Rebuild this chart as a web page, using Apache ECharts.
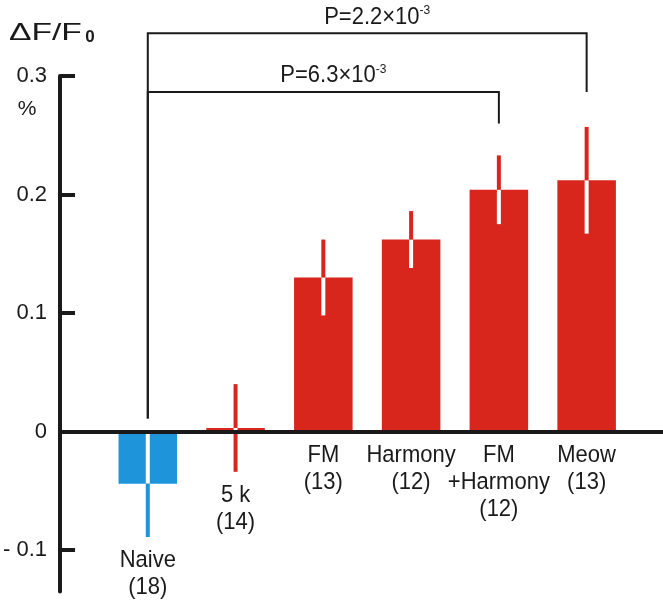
<!DOCTYPE html>
<html><head><meta charset="utf-8">
<script src="https://cdn.jsdelivr.net/npm/echarts@6/dist/echarts.min.js"></script>
<style>html,body{margin:0;padding:0;background:#fff}#c{width:663px;height:600px}</style>
</head><body><div id="c"></div>
<script>
const categories = ['Naive', '5 k', 'FM', 'Harmony', 'FM\n+Harmony', 'Meow'];
const sampleSizes = [18, 14, 13, 12, 12, 13];
const means = [-0.044, 0.003, 0.130, 0.162, 0.204, 0.212];
const sems = [0.045, 0.037, 0.032, 0.024, 0.029, 0.045];
const groupIsControl = [true, false, false, false, false, false];
const yTicks = [-0.1, 0, 0.1, 0.2, 0.3];
const yTickLabels = ['- 0.1', '0', '0.1', '0.2', '0.3'];
// significance brackets
const bracketFrom = [0, 0];
const bracketTo = [5, 4];
const bracketLevel = [0.336, 0.2865];
const bracketLegEnd = [0.2865, 0.260];
const bracketStartEnd = 0.011;
const pMantissa = ['P=2.2×10', 'P=6.3×10'];
const pExponent = ['-3', '-3'];

const FONT = '"Liberation Sans", Arial, Helvetica, sans-serif';
const RED = '#d8261d';
const BLUE = '#1e95db';
const INK = '#1a1a1a';

const chart = echarts.init(document.getElementById('c'));

function renderBar(params, api) {
  const i = api.value(0), m = api.value(1), e = api.value(2);
  const unit = api.size([1, 0])[0];
  const bw = unit * 0.667;
  const base = api.coord([i, 0]);
  const top = api.coord([i, m]);
  const color = groupIsControl[i] ? BLUE : RED;
  const lo = Math.min(0, m), hi = Math.max(0, m);
  const eLo = m - e, eHi = m + e;
  const children = [];
  children.push({type: 'rect', shape: {x: base[0] - bw / 2, y: Math.min(base[1], top[1]), width: bw, height: Math.abs(base[1] - top[1])}, style: {fill: color}});
  const seg = (a, b, col) => {
    if (b > a) {
      const p = api.coord([i, a]), q = api.coord([i, b]);
      children.push({type: 'line', shape: {x1: p[0], y1: p[1], x2: q[0], y2: q[1]}, style: {stroke: col, lineWidth: 4}});
    }
  };
  seg(Math.max(eLo, lo), Math.min(eHi, hi), '#ffffff');
  seg(eLo, Math.min(eHi, lo), color);
  seg(Math.max(eLo, hi), eHi, color);
  const labY = api.coord([i, Math.min(0, eLo)])[1] + 10;
  children.push({type: 'text', x: base[0], y: labY, scaleY: 1.12,
    style: {text: categories[i] + '\n(' + sampleSizes[i] + ')', x: 0, y: 0, align: 'center', verticalAlign: 'top', fontSize: 22, lineHeight: 24, fontFamily: FONT, fill: INK}});
  return {type: 'group', children};
}

function renderBracket(params, api) {
  const f = api.value(0), t = api.value(1), lvl = api.value(2), legEnd = api.value(3), k = api.value(4);
  const a = api.coord([f, bracketStartEnd]);
  const b = api.coord([f, lvl]);
  const c = api.coord([t, lvl]);
  const d = api.coord([t, legEnd]);
  return {type: 'group', children: [
    {type: 'polyline', shape: {points: [a, b, c, d]}, style: {stroke: INK, lineWidth: 2, fill: null}},
    {type: 'text', x: (b[0] + c[0]) / 2 + 10, y: b[1] - 16, scaleY: 1.06, style: {
      text: '{m|' + pMantissa[k] + '}{e|' + pExponent[k] + '}',
      x: 0, y: 0, align: 'center', verticalAlign: 'middle',
      rich: {
        m: {fontSize: 22, fontFamily: FONT, fill: INK, lineHeight: 24},
        e: {fontSize: 12, fontFamily: FONT, fill: INK, verticalAlign: 'top', lineHeight: 24}
      }
    }}
  ]};
}

chart.setOption({
  animation: false,
  backgroundColor: '#ffffff',
  grid: {left: 55, right: 0, top: 76, bottom: 8.5, containLabel: false},
  xAxis: {
    type: 'value', min: -1, max: 5.87, z: 10,
    axisLine: {show: true, onZero: true, lineStyle: {color: INK, width: 4}},
    axisTick: {show: false}, axisLabel: {show: false}, splitLine: {show: false}
  },
  yAxis: {
    type: 'value', min: -0.135, max: 0.3, z: 10,
    axisLine: {show: true, onZero: false, lineStyle: {color: INK, width: 4}},
    axisTick: {show: true, inside: true, length: 15, customValues: yTicks, lineStyle: {color: INK, width: 4}},
    axisLabel: {
      customValues: yTicks, margin: 13, fontSize: 22, fontFamily: FONT, color: INK,
      formatter: v => { const k = yTicks.findIndex(t => Math.abs(t - v) < 1e-9); return k >= 0 ? yTickLabels[k] : ''; }
    },
    splitLine: {show: false}
  },
  graphic: [
    {type: 'text', x: 9, y: 33, scaleX: 1.4, style: {text: 'ΔF/F', fontSize: 24, fontFamily: FONT, fill: INK, align: 'left', verticalAlign: 'middle'}},
    {type: 'text', x: 90, y: 37, style: {text: '0', fontSize: 17, fontWeight: 'bold', fontFamily: FONT, fill: INK, align: 'center', verticalAlign: 'middle'}},
    {type: 'text', x: 27, y: 109, style: {text: '%', fontSize: 21, fontFamily: FONT, fill: INK, align: 'center', verticalAlign: 'middle'}}
  ],
  series: [
    {
      type: 'custom', name: 'bars', renderItem: renderBar,
      encode: {x: 0, y: 1},
      data: categories.map((c, i) => [i, means[i], sems[i]])
    },
    {
      type: 'custom', name: 'brackets', renderItem: renderBracket,
      encode: {x: 0, y: 2},
      data: bracketFrom.map((f, k) => [f, bracketTo[k], bracketLevel[k], bracketLegEnd[k], k])
    }
  ]
});
</script>
</body></html>
